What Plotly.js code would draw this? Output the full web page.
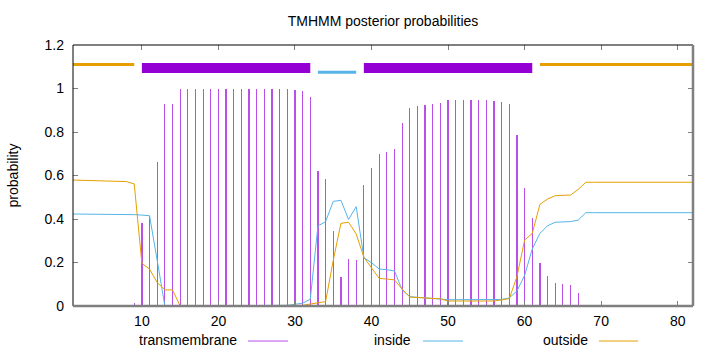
<!DOCTYPE html>
<html>
<head>
<meta charset="utf-8">
<script src="https://cdn.plot.ly/plotly-3.0.1.min.js"></script>
<style>
  html, body { margin: 0; padding: 0; background: #fff; }
  #chart { width: 720px; height: 352px; }
</style>
</head>
<body>
<div id="chart"></div>
<script>
// Sequence positions 1..82
const positions = [];
for (let i = 1; i <= 82; i++) positions.push(i);

// Transmembrane posterior probability (impulses), positions 1..82
const transmembrane = [
  0.001, 0.001, 0.003, 0.003, 0.003, 0.003, 0.003, 0.002, 0.015, 0.383,
  0.415, 0.66, 0.929, 0.929, 0.999, 0.998, 1.0, 1.0, 1.0, 1.0,
  1.0, 1.0, 1.0, 1.0, 1.0, 1.0, 1.0, 1.0, 1.0, 0.993,
  0.989, 0.962, 0.622, 0.582, 0.346, 0.132, 0.216, 0.21, 0.555, 0.633,
  0.70, 0.708, 0.722, 0.841, 0.910, 0.920, 0.926, 0.927, 0.932, 0.946,
  0.946, 0.946, 0.946, 0.946, 0.946, 0.943, 0.938, 0.929, 0.786, 0.544,
  0.403, 0.199, 0.138, 0.104, 0.101, 0.097, 0.06, 0.0, 0.0, 0.0,
  0.0, 0.0, 0.0, 0.0, 0.0, 0.0, 0.0, 0.0, 0.0, 0.0,
  0.0, 0.0
];

// Inside posterior probability
const inside = [
  0.423, 0.423, 0.423, 0.423, 0.423, 0.423, 0.422, 0.421, 0.42, 0.418,
  0.415, 0.21, 0.0, 0.0, 0.0, 0.0, 0.0, 0.0, 0.0, 0.0,
  0.0, 0.0, 0.0, 0.0, 0.0, 0.0, 0.0, 0.001, 0.003, 0.008,
  0.013, 0.031, 0.368, 0.388, 0.481, 0.486, 0.398, 0.457, 0.222, 0.199,
  0.17, 0.167, 0.161, 0.074, 0.043, 0.04, 0.037, 0.034, 0.032, 0.029,
  0.029, 0.029, 0.029, 0.029, 0.029, 0.029, 0.030, 0.037, 0.069, 0.141,
  0.262, 0.334, 0.369, 0.385, 0.388, 0.388, 0.395, 0.429, 0.429, 0.429,
  0.429, 0.429, 0.429, 0.429, 0.429, 0.429, 0.429, 0.429, 0.429, 0.429,
  0.429, 0.429
];

// Outside posterior probability
const outside = [
  0.579, 0.578, 0.577, 0.577, 0.576, 0.575, 0.574, 0.572, 0.561, 0.196,
  0.17, 0.108, 0.074, 0.074, 0.0, 0.0, 0.0, 0.0, 0.0, 0.0,
  0.0, 0.0, 0.0, 0.0, 0.0, 0.0, 0.0, 0.0, 0.001, 0.002,
  0.003, 0.009, 0.013, 0.02, 0.21, 0.38, 0.385, 0.331, 0.224, 0.173,
  0.127, 0.124, 0.12, 0.078, 0.041, 0.039, 0.037, 0.035, 0.033, 0.023,
  0.023, 0.023, 0.023, 0.023, 0.023, 0.023, 0.028, 0.034, 0.135, 0.303,
  0.334, 0.467, 0.492, 0.507, 0.509, 0.51, 0.536, 0.569, 0.569, 0.569,
  0.569, 0.569, 0.569, 0.569, 0.569, 0.569, 0.569, 0.569, 0.569, 0.569,
  0.569, 0.569
];

// Predicted topology segments (start, end, type)
const segStart = [1, 10, 33, 39, 62];
const segEnd   = [9, 32, 38, 61, 82];
const segType  = ['outside', 'TMhelix', 'inside', 'TMhelix', 'outside'];
const segLevel = { outside: 1.11, TMhelix: 1.094, inside: 1.075 };

const xTicks = [10, 20, 30, 40, 50, 60, 70, 80];
const yTicks = [0, 0.2, 0.4, 0.6, 0.8, 1, 1.2];
const yTickText = ['0', '0.2', '0.4', '0.6', '0.8', '1', '1.2'];

const legendNames = ['transmembrane', 'inside', 'outside'];

const colTM = '#9400d3';
const colTMimp = '#b94fe6';
const colIn = '#56b4e9';
const colOut = '#e69f00';

const traces = [];

traces.push({
  type: 'bar',
  x: positions,
  y: transmembrane,
  width: 0.16,
  marker: { color: colTMimp, line: { width: 0 } },
  showlegend: false,
  hoverinfo: 'x+y'
});

traces.push({
  type: 'scatter', mode: 'lines',
  x: positions, y: inside,
  line: { color: colIn, width: 1 },
  showlegend: false
});
traces.push({
  type: 'scatter', mode: 'lines',
  x: positions, y: outside,
  line: { color: colOut, width: 1 },
  showlegend: false
});

for (let k = 0; k < segStart.length; k++) {
  const t = segType[k];
  const col = t === 'TMhelix' ? colTM : (t === 'inside' ? colIn : colOut);
  const w = t === 'TMhelix' ? 10 : 3;
  traces.push({
    type: 'scatter', mode: 'lines',
    x: [segStart[k], segEnd[k]],
    y: [segLevel[t], segLevel[t]],
    line: { color: col, width: w },
    showlegend: false,
    hoverinfo: 'skip'
  });
}

const font = { family: 'Liberation Sans, Arial, sans-serif', size: 14, color: '#000' };

const shapes = [
  // frame
  { type: 'line', xref: 'paper', yref: 'paper', x0: 0, x1: 0, y0: 0, y1: 1, line: { color: '#000', width: 1 } },
  { type: 'line', xref: 'paper', yref: 'paper', x0: 0, x1: 1, y0: 1, y1: 1, line: { color: '#000', width: 1 } },
  { type: 'line', xref: 'paper', yref: 'paper', x0: 1, x1: 1, y0: 0, y1: 1, line: { color: '#808080', width: 2.5 } },
  { type: 'line', xref: 'paper', yref: 'paper', x0: 0, x1: 1, y0: 0, y1: 0, line: { color: '#808080', width: 2.5 } }
];

// legend: text then line sample (gnuplot style)
const legTextX = [239, 413, 590];
const legLineX = [[248, 288], [423, 463], [599, 638]];
const legCols = [colTMimp, colIn, colOut];
const annotations = [];
const W = 720, H = 352, L = 73, R = 27, T = 45, B = 46;
const pw = W - L - R, ph = H - T - B;
function px2paperX(p) { return (p - L) / pw; }
function py2paperY(p) { return (H - B - p) / ph; }
for (let k = 0; k < legendNames.length; k++) {
  annotations.push({
    xref: 'paper', yref: 'paper',
    x: px2paperX(legTextX[k]), y: py2paperY(340),
    xanchor: 'right', yanchor: 'middle',
    text: legendNames[k], showarrow: false, font: font
  });
  shapes.push({
    type: 'line', xref: 'paper', yref: 'paper',
    x0: px2paperX(legLineX[k][0]), x1: px2paperX(legLineX[k][1]),
    y0: py2paperY(341), y1: py2paperY(341),
    line: { color: legCols[k], width: 1 }
  });
}

const layout = {
  width: W, height: H,
  margin: { l: L, r: R, t: T, b: B, pad: 0 },
  paper_bgcolor: '#fff', plot_bgcolor: '#fff',
  font: font,
  showlegend: false,
  title: { text: 'TMHMM posterior probabilities', x: 0.532, xanchor: 'center', y: 0.94, yanchor: 'middle', font: font },
  xaxis: {
    range: [1, 82], tickvals: xTicks, ticktext: xTicks.map(String),
    ticks: 'inside', ticklen: 5, tickcolor: '#808080', tickwidth: 1,
    mirror: 'ticks', showline: false, showgrid: false, zeroline: false,
    ticklabelstandoff: 5,
    tickfont: font
  },
  yaxis: {
    range: [0, 1.2], tickvals: yTicks, ticktext: yTickText,
    ticks: 'inside', ticklen: 5, tickcolor: '#808080', tickwidth: 1,
    mirror: 'ticks', showline: false, showgrid: false, zeroline: false,
    ticklabelstandoff: 8,
    tickfont: font,
    title: { text: 'probability', font: font, standoff: 22 }
  },
  shapes: shapes,
  annotations: annotations,
  bargap: 0
};

Plotly.newPlot('chart', traces, layout, { staticPlot: true, displayModeBar: false });
</script>
</body>
</html>
